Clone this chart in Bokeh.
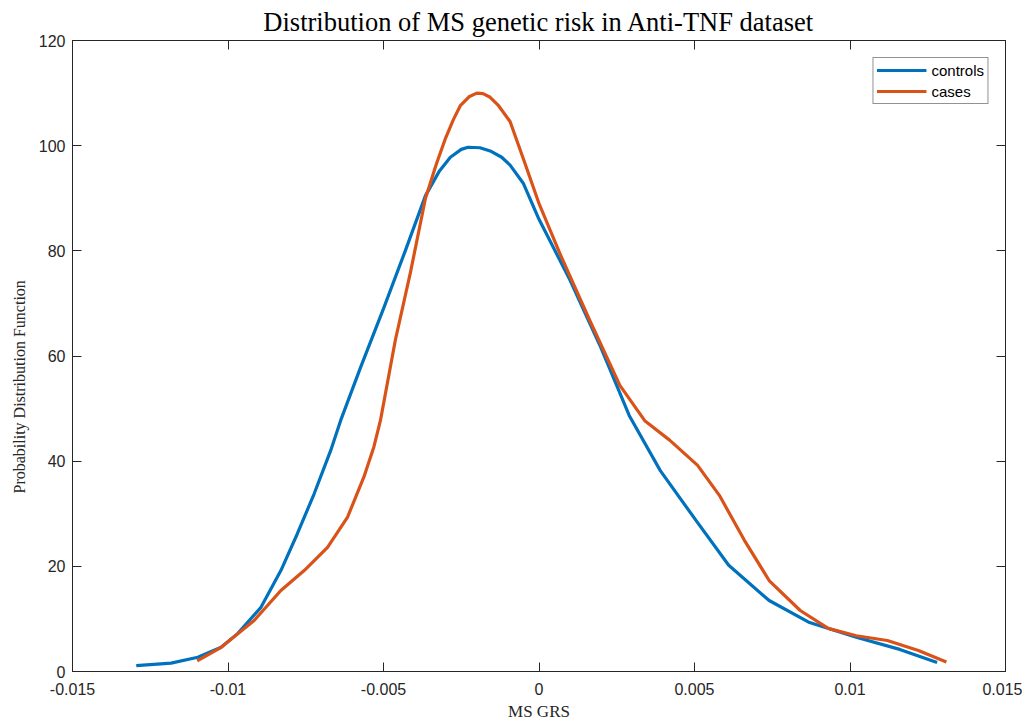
from bokeh.plotting import figure
from bokeh.models import LinearAxis, Range1d, FixedTicker, Legend, LegendItem, ColumnDataSource, Title
from bokeh.embed import file_html
from bokeh.resources import INLINE

# Data
controls_x = [-0.01295, -0.01183, -0.01097, -0.01022, -0.00969, -0.00894, -0.0083, -0.00777,
              -0.00723, -0.0067, -0.00638, -0.00574, -0.005, -0.0043, -0.00365, -0.0032,
              -0.00285, -0.0025, -0.00228, -0.0019, -0.00157, -0.0012, -0.00093, -0.0005,
              0.0, 0.001, 0.00196, 0.0029, 0.0039, 0.0051, 0.0061, 0.0074, 0.0087, 0.0102,
              0.0116, 0.0128]
controls_y = [1.1, 1.6, 2.7, 4.6, 7.2, 12.2, 19.2, 26.2, 33.8, 42.0, 47.7, 57.8, 69.0, 80.0,
              90.5, 95.2, 97.8, 99.3, 99.7, 99.6, 99.0, 97.8, 96.3, 92.8, 86.0, 74.4, 62.0,
              48.7, 38.2, 28.3, 20.2, 13.5, 9.3, 6.5, 4.2, 1.7]
cases_x = [-0.01099, -0.01022, -0.00916, -0.0083, -0.00755, -0.0068, -0.00616, -0.00563,
           -0.00531, -0.0051, -0.00462, -0.00413, -0.00365, -0.0033, -0.003, -0.00275,
           -0.00253, -0.00225, -0.002, -0.0018, -0.00157, -0.0013, -0.00093, -0.00045,
           0.0, 0.00067, 0.00163, 0.0026, 0.0034, 0.0042, 0.0051, 0.0058, 0.0066, 0.0074,
           0.0084, 0.0093, 0.0102, 0.0112, 0.0122, 0.0131]
cases_y = [2.0, 4.6, 9.7, 15.4, 19.2, 23.6, 29.3, 37.0, 42.7, 47.7, 63.0, 76.0, 90.0, 96.5,
           101.5, 105.0, 107.6, 109.3, 110.0, 109.9, 109.2, 107.6, 104.6, 96.6, 89.0, 79.5,
           66.8, 54.4, 47.7, 44.0, 39.2, 33.5, 25.0, 17.3, 11.6, 8.2, 6.8, 5.9, 4.0, 1.8]

x_ticks = [-0.015, -0.01, -0.005, 0, 0.005, 0.01, 0.015]
x_tick_labels = ["-0.015", "-0.01", "-0.005", "0", "0.005", "0.01", "0.015"]
y_ticks = [0, 20, 40, 60, 80, 100, 120]

BLUE = "#0072BD"
ORANGE = "#D95319"
AX = "#262626"
TICK_FONT = "Liberation Sans"
SERIF = "Liberation Serif"

p = figure(width=1022, height=714, frame_width=933, frame_height=631,
           x_range=Range1d(-0.015, 0.015), y_range=Range1d(0, 120),
           output_backend="svg", toolbar_location=None,
           min_border_left=72, min_border_right=17, min_border_top=40, min_border_bottom=43)
p.background_fill_color = "white"
p.border_fill_color = "white"
p.outline_line_color = AX
p.outline_line_width = 1
p.grid.visible = False

p.title.text = "Distribution of MS genetic risk in Anti-TNF dataset"
p.title.text_font = SERIF
p.title.text_font_size = "26.5px"
p.title.text_font_style = "normal"
p.title.text_color = "black"
p.title.align = "center"
p.title.offset = 0
p.title.standoff = 7

def style_axis(ax, ticks, labels=None, show_labels=True):
    ax.ticker = FixedTicker(ticks=ticks)
    if labels is not None:
        ax.major_label_overrides = {t: l for t, l in zip(ticks, labels)}
    ax.major_tick_in = 9
    ax.major_tick_out = 0
    ax.minor_tick_in = 0
    ax.minor_tick_out = 0
    ax.axis_line_color = AX
    ax.major_tick_line_color = AX
    ax.major_label_text_font = TICK_FONT
    if show_labels:
        ax.major_label_text_font_size = "16px"
        ax.major_label_text_color = AX
    else:
        ax.major_label_text_font_size = "1px"
        ax.major_label_text_color = None
    ax.major_label_standoff = 0

style_axis(p.xaxis[0], x_ticks, x_tick_labels)
p.xaxis[0].major_label_standoff = 11
style_axis(p.yaxis[0], y_ticks)
p.yaxis[0].major_label_standoff = 7
p.xaxis[0].axis_label = "MS GRS"
p.xaxis[0].axis_label_text_font = SERIF
p.xaxis[0].axis_label_text_font_style = "normal"
p.xaxis[0].axis_label_text_font_size = "17px"
p.xaxis[0].axis_label_text_color = AX
p.xaxis[0].axis_label_standoff = 4

# y-axis title, set a little below the axis centre as in the reference
ytitle = Title(text="Probability Distribution Function", align="left", offset=178,
               text_font=SERIF, text_font_size="16px", text_font_style="normal",
               text_color=AX, standoff=16)
p.add_layout(ytitle, "left")

top_ax = LinearAxis()
style_axis(top_ax, x_ticks, show_labels=False)
p.add_layout(top_ax, "above")
right_ax = LinearAxis()
style_axis(right_ax, y_ticks, show_labels=False)
p.add_layout(right_ax, "right")

src_c = ColumnDataSource(dict(x=controls_x, y=controls_y))
src_k = ColumnDataSource(dict(x=cases_x, y=cases_y))
r1 = p.line("x", "y", source=src_c, line_color=BLUE, line_width=3.2, line_join="round")
r2 = p.line("x", "y", source=src_k, line_color=ORANGE, line_width=3.2, line_join="round")

legend = Legend(items=[LegendItem(label="controls", renderers=[r1]),
                       LegendItem(label="cases", renderers=[r2])],
                location="top_right")
legend.margin = 17
legend.padding = 3
legend.spacing = 3
legend.glyph_width = 50
legend.glyph_height = 18
legend.label_height = 18
legend.label_standoff = 5
legend.label_text_font = TICK_FONT
legend.label_text_font_size = "15px"
legend.label_text_color = "black"
legend.border_line_color = AX
legend.border_line_width = 1
legend.background_fill_color = "white"
legend.background_fill_alpha = 1
p.add_layout(legend, "center")

open("out.html", "w").write(file_html(p, INLINE))
